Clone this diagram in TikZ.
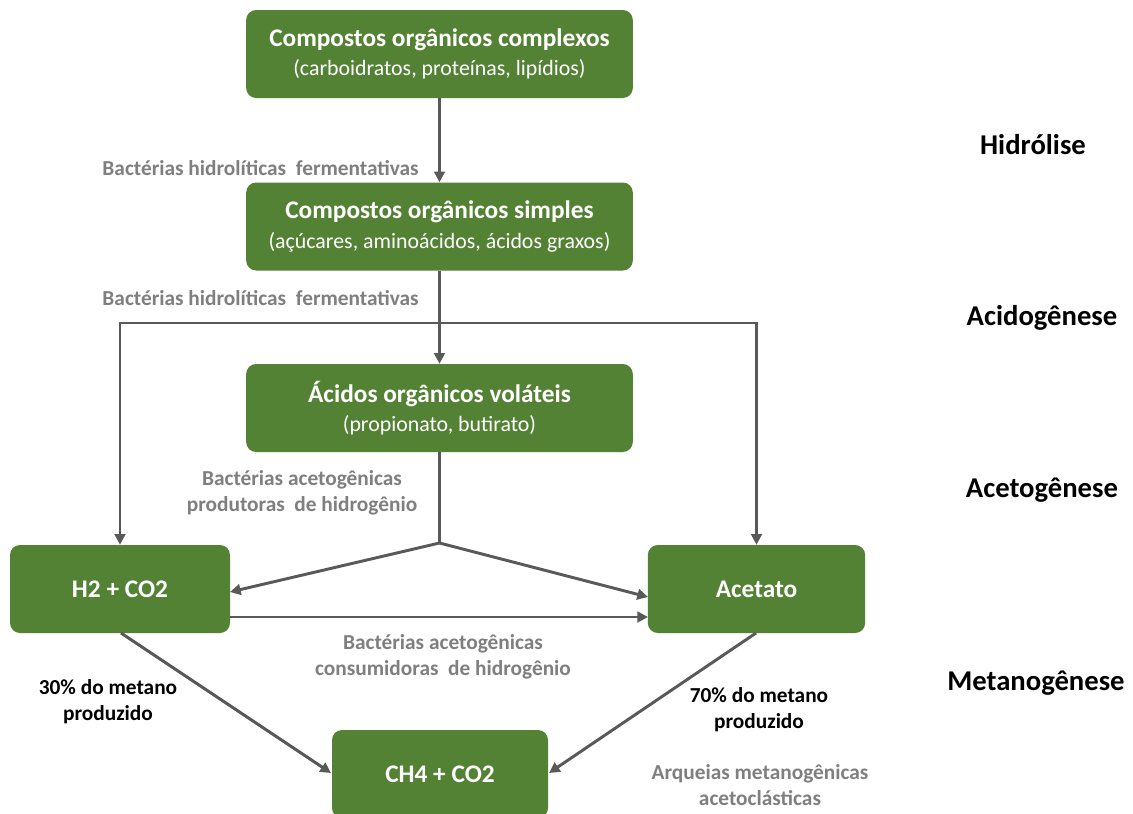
\documentclass[tikz,border=0pt]{standalone}
\usepackage{fontspec}
\setmainfont{Carlito}
\usetikzlibrary{arrows.meta}
\definecolor{boxgreen}{HTML}{548235}
\definecolor{arrowgray}{HTML}{595959}
\definecolor{labelgray}{HTML}{7F7F7F}
\tikzset{
  greenbox/.style={fill=boxgreen, draw=none, rounded corners=7.5pt, text=white, align=center, inner sep=0pt, minimum height=66pt},
  conn/.style={draw=arrowgray, line width=2.2pt},
  arr/.style={conn, -{Triangle[length=8pt,width=8pt]}},
  glabel/.style={text=labelgray, font=\bfseries\fontsize{16}{19.5}\selectfont, align=center, inner sep=0pt},
  blabel/.style={text=black, font=\bfseries\fontsize{16}{19.5}\selectfont, align=center, inner sep=0pt},
  phase/.style={text=black, font=\bfseries\fontsize{21.5}{25}\selectfont, inner sep=0pt},
}
\newcommand{\ttl}[1]{{\bfseries\fontsize{19}{23}\selectfont #1}}
\newcommand{\sub}[1]{{\fontsize{16.4}{20}\selectfont #1}}
\begin{document}
\begin{tikzpicture}[x=0.75pt,y=-0.75pt]
\useasboundingbox[fill=white] (0,0) rectangle (1133,814);
\node[greenbox, minimum width=290pt] (b1) at (439.5,54) {\ttl{Compostos orgânicos complexos}\\[6pt]\sub{(carboidratos, proteínas, lipídios)}};
\node[greenbox, minimum width=290pt] (b2) at (439.5,226.5) {\ttl{Compostos orgânicos simples}\\[6pt]\sub{(açúcares, aminoácidos, ácidos graxos)}};
\node[greenbox, minimum width=290pt] (b3) at (439.5,408) {\ttl{Ácidos orgânicos voláteis}\\[6pt]\sub{(propionato, butirato)}};
\node[greenbox, minimum width=165pt] (h2) at (120,589) {\ttl{H2 + CO2}};
\node[greenbox, minimum width=163pt] (ac) at (756.5,589) {\ttl{Acetato}};
\node[greenbox, minimum width=162pt] (ch4) at (440,774) {\ttl{CH4 + CO2}};

\coordinate (split) at (439.5,323);
\coordinate (join) at (439.5,543);
\coordinate (h2in) at (230,592);
\coordinate (acin) at (648,597);
\coordinate (h2out) at (230,617);
\coordinate (acout) at (648,617);
\coordinate (h2bot) at (121,633);
\coordinate (acbot) at (756,633);
\coordinate (ch4l) at (331,773);
\coordinate (ch4r) at (549,773);

\draw[arr] (b1) -- (b2);
\draw[arr] (b2) -- (b3);
\draw[arr] (split) -| (h2.north);
\draw[arr] (split) -| (ac.north);
\draw[conn] (b3) -- (join);
\draw[arr] (join) -- (h2in);
\draw[arr] (join) -- (acin);
\draw[arr] (h2out) -- (acout);
\draw[arr] (h2bot) -- (ch4l);
\draw[arr] (acbot) -- (ch4r);

\node[glabel, anchor=east] (l1) at (419,168) {Bactérias hidrolíticas\ \ fermentativas};
\node[glabel, anchor=east] (l2) at (419,298) {Bactérias hidrolíticas\ \ fermentativas};
\node[glabel] (l3) at (302,493) {Bactérias acetogênicas\\produtoras\ \ de hidrogênio};
\node[glabel] (l4) at (443,657) {Bactérias acetogênicas\\consumidoras\ \ de hidrogênio};
\node[blabel] (l5) at (108,702) {30\% do metano\\produzido};
\node[blabel] (l6) at (759,710) {70\% do metano\\produzido};
\node[glabel] (l7) at (760,785) {Arqueias metanogênicas\\acetoclásticas};

\node[phase] (p1) at (1033,145) {Hidrólise};
\node[phase] (p2) at (1042,318) {Acidogênese};
\node[phase] (p3) at (1042,490) {Acetogênese};
\node[phase] (p4) at (1036,683) {Metanogênese};
\end{tikzpicture}
\end{document}
